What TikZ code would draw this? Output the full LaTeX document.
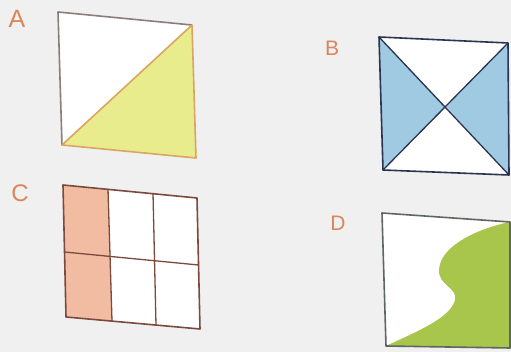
\documentclass[tikz,border=0pt]{standalone}
\usepackage{fontspec}
\setmainfont{Liberation Sans}
\begin{document}
\begin{tikzpicture}[x=1pt,y=-1pt,line join=round,
  lbl/.style={text=labelor,inner sep=0pt,anchor=center},
  edge/.style={line width=1.6pt}]
\definecolor{bg}{HTML}{F0F0F0}
\definecolor{labelor}{HTML}{D9865A}
\definecolor{yel}{HTML}{E9EC8C}
\definecolor{yelline}{HTML}{D9A560}
\definecolor{agray}{HTML}{8A7F78}
\definecolor{blu}{HTML}{9FCAE2}
\definecolor{navy}{HTML}{2A3350}
\definecolor{salm}{HTML}{F2BCA2}
\definecolor{brn}{HTML}{7A4A3C}
\definecolor{grn}{HTML}{A9C64C}
\definecolor{dgray}{HTML}{5E6660}
\fill[bg] (0,0) rectangle (511,352);
\useasboundingbox (0,0) rectangle (511,352);
% labels
\node[lbl,font=\fontsize{25}{25}\selectfont] (la) at (17,19) {A};
\node[lbl,font=\fontsize{21}{21}\selectfont] (lb) at (332,48) {B};
\node[lbl,font=\fontsize{24}{24}\selectfont] (lc) at (20,193) {C};
\node[lbl,font=\fontsize{21}{21}\selectfont] (ld) at (338,223) {D};
% A
\coordinate (a1) at (58,12); \coordinate (a2) at (192,25);
\coordinate (a3) at (196,158); \coordinate (a4) at (62,145);
\fill[white] (a1)--(a2)--(a3)--(a4)--cycle;
\fill[yel] (a2)--(a3)--(a4)--cycle;
\draw[edge,agray] (a4)--(a1)--(a2);
\draw[edge,yelline] (a2)--(a3)--(a4)--cycle;
% B
\coordinate (b1) at (379,37); \coordinate (b2) at (508,43);
\coordinate (b3) at (509,175); \coordinate (b4) at (383,170);
\coordinate (bc) at (446,107);
\fill[white] (b1)--(b2)--(b3)--(b4)--cycle;
\fill[blu] (b1)--(bc)--(b4)--cycle;
\fill[blu] (b2)--(bc)--(b3)--cycle;
\draw[edge,navy] (b1)--(b2)--(b3)--(b4)--cycle;
\draw[line width=1.3pt,navy] (b1)--(b3) (b2)--(b4);
% C
\coordinate (c1) at (63,185); \coordinate (c2) at (197,198);
\coordinate (c3) at (200,329); \coordinate (c4) at (66,317);
\coordinate (ct1) at (108,189); \coordinate (ct2) at (153,193);
\coordinate (cb1) at (112,321); \coordinate (cb2) at (156,325);
\coordinate (cl) at (64.5,252); \coordinate (cr) at (198.5,265);
\fill[white] (c1)--(c2)--(c3)--(c4)--cycle;
\fill[salm] (c1)--(ct1)--(cb1)--(c4)--cycle;
\draw[line width=1.3pt,brn] (ct1)--(cb1) (ct2)--(cb2) (cl)--(cr);
\draw[edge,brn] (c1)--(c2)--(c3)--(c4)--cycle;
% D
\coordinate (d1) at (382,213); \coordinate (d2) at (510,222);
\coordinate (d3) at (510,348); \coordinate (d4) at (386,346);
\fill[white] (d1)--(d2)--(d3)--(d4)--cycle;
\fill[grn] (d4) .. controls (420,330) and (450,318) .. (455,300)
  .. controls (458,288) and (438,285) .. (439,270)
  .. controls (440,245) and (480,228) .. (d2) -- (d3) -- cycle;
\draw[edge,dgray] (d1)--(d2)--(d3)--(d4)--cycle;
\end{tikzpicture}
\end{document}
